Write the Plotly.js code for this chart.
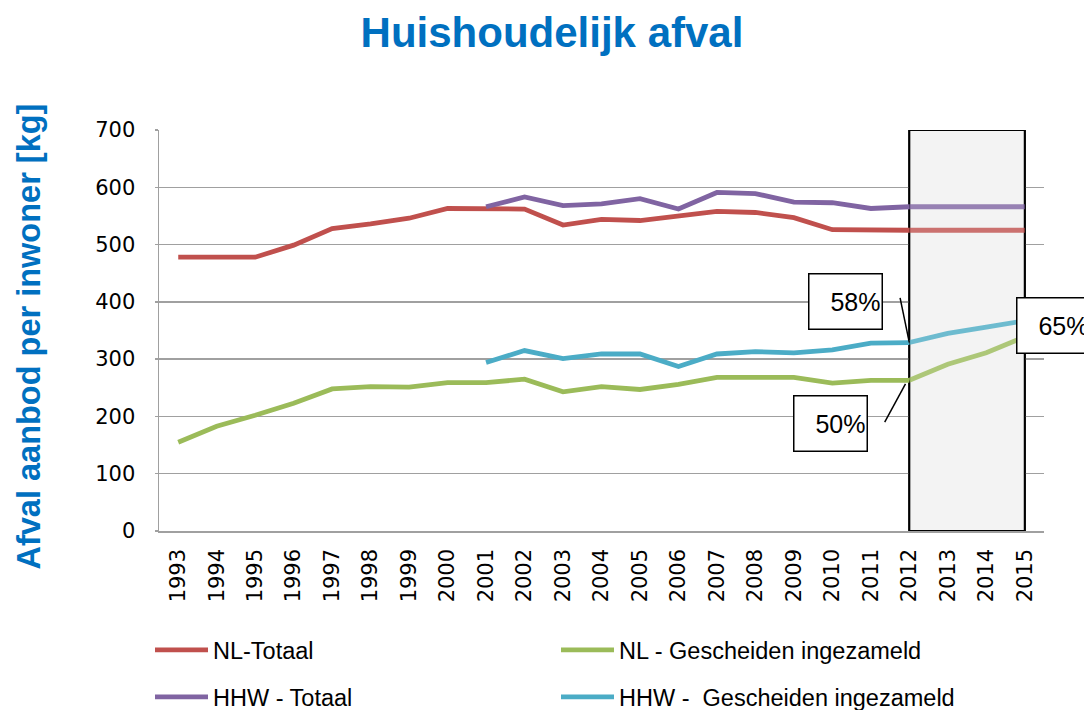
<!DOCTYPE html>
<html>
<head>
<meta charset="utf-8">
<script src="https://cdn.plot.ly/plotly-3.0.1.min.js"></script>
<style>
  html, body { margin: 0; padding: 0; background: #ffffff; }
  #chart { width: 1084px; height: 710px; }
</style>
</head>
<body>
<div id="chart"></div>
<script>
// ---- data ----
const years = ['1993','1994','1995','1996','1997','1998','1999','2000','2001','2002','2003','2004',
               '2005','2006','2007','2008','2009','2010','2011','2012','2013','2014','2015'];
const nlTotaal      = [478, 479, 478, 499, 528, 536, 546, 563, 563, 562, 534, 544, 542, 550, 558, 556, 547, 526, 525, 525, 525, 525, 525];
const nlGescheiden  = [155, 183, 202, 223, 248, 252, 251, 259, 259, 265, 243, 252, 247, 256, 268, 267, 268, 258, 263, 263, 291, 311, 339];
const hhwTotaal     = [null, null, null, null, null, null, null, null, 566, 583, 568, 571, 580, 562, 591, 589, 574, 573, 563, 566, 566, 566, 566];
const hhwGescheiden = [null, null, null, null, null, null, null, null, 294, 315, 301, 309, 309, 287, 309, 313, 311, 316, 328, 329, 345, 356, 367];
const seriesNames = ['NL-Totaal', 'NL - Gescheiden ingezameld', 'HHW - Totaal', 'HHW - \u00a0Gescheiden ingezameld'];
const percentLabels = ['58%', '50%', '65%'];
const yTicks = [0, 100, 200, 300, 400, 500, 600, 700];

const projStart = years.indexOf('2012');
const projEnd = years.length - 1;
const colors = ['#C0504D', '#9BBB59', '#8064A2', '#4BACC6'];
const series = [nlTotaal, nlGescheiden, hhwTotaal, hhwGescheiden];
const legendOf = ['legend', 'legend', 'legend2', 'legend2'];

const traces = [];
series.forEach((vals, i) => {
  traces.push({
    type: 'scatter', mode: 'lines', name: seriesNames[i],
    x: years.slice(0, projStart + 1), y: vals.slice(0, projStart + 1),
    line: { color: colors[i], width: 4.8 },
    legend: legendOf[i], hoverinfo: 'x+y+name'
  });
});
series.forEach((vals, i) => {
  traces.push({
    type: 'scatter', mode: 'lines', name: seriesNames[i],
    x: years.slice(projStart), y: vals.slice(projStart),
    line: { color: colors[i], width: 4.8 }, opacity: 0.8,
    showlegend: false, legend: legendOf[i], hoverinfo: 'x+y+name'
  });
});

const textFamily = 'Liberation Sans, Arial, sans-serif';
const labelFont = { family: textFamily, size: 25, color: '#000000' };
function pctBox(text, xref, x, y) {
  return {
    xref: xref, yref: 'y', x: x, y: y, text: text, showarrow: false,
    font: labelFont, align: 'right', width: 70, height: 52,
    bgcolor: '#ffffff', bordercolor: '#000000', borderwidth: 1.5, borderpad: 1,
    xanchor: 'center', yanchor: 'middle'
  };
}

const legendBase = {
  orientation: 'h', xref: 'container', yref: 'container',
  x: 150 / 1084, xanchor: 'left', yanchor: 'middle',
  entrywidth: 338, entrywidthmode: 'pixels', itemwidth: 53,
  font: { family: textFamily, size: 23.5, color: '#000000' },
  bgcolor: 'rgba(0,0,0,0)', traceorder: 'normal'
};

const layout = {
  width: 1084, height: 710,
  margin: { l: 159, r: 40, t: 130, b: 179 },
  paper_bgcolor: '#ffffff', plot_bgcolor: '#ffffff',
  title: {
    text: 'Huishoudelijk afval',
    font: { family: textFamily, size: 42, color: '#0070C0', weight: 'bold' },
    xref: 'container', x: 552 / 1084, xanchor: 'center',
    yref: 'container', y: 1 - 32 / 710, yanchor: 'middle'
  },
  xaxis: {
    type: 'category', range: [-0.5, years.length - 0.5],
    tickangle: -90, ticks: '', ticklabelstandoff: 8,
    tickfont: { family: 'DejaVu Sans, sans-serif', size: 21, color: '#000000' },
    showgrid: false, showline: true, linecolor: '#a0a0a0', linewidth: 1.5,
    zeroline: false, fixedrange: true
  },
  yaxis: {
    range: [0, 700], tickvals: yTicks, ticktext: yTicks.map(String),
    ticks: 'outside', ticklen: 3, tickcolor: '#a0a0a0', tickwidth: 1.5,
    ticklabelstandoff: 15,
    tickfont: { family: 'DejaVu Sans, sans-serif', size: 21, color: '#000000' },
    showgrid: true, gridcolor: '#a0a0a0', gridwidth: 1.5,
    showline: true, linecolor: '#a0a0a0', linewidth: 1.5,
    zeroline: false, fixedrange: true
  },
  shapes: [
    { type: 'rect', xref: 'x', yref: 'y', x0: projStart, x1: projEnd, y0: 0, y1: 700,
      fillcolor: '#f3f3f3', line: { color: '#000000', width: 2 }, layer: 'below' },
    { type: 'rect', xref: 'x', yref: 'y', x0: projStart, x1: projEnd, y0: 0, y1: 700,
      fillcolor: '#f3f3f3', line: { color: '#000000', width: 2 }, layer: 'between' },
    { type: 'line', xref: 'x', yref: 'y', x0: 18.76, y0: 407, x1: 19.0, y1: 329, line: { color: '#000000', width: 1.5 } },
    { type: 'line', xref: 'x', yref: 'y', x0: 18.36, y0: 190, x1: 18.9, y1: 257, line: { color: '#000000', width: 1.5 } }
  ],
  annotations: [
    pctBox(percentLabels[0], 'x', 17.34, 400),
    pctBox(percentLabels[1], 'x', 16.95, 187),
    pctBox(percentLabels[2], 'paper', (1053 - 159) / 885, 359),
    {
      xref: 'paper', yref: 'paper', x: (28 - 159) / 885, y: (531 - 336.5) / 401,
      text: 'Afval aanbod per inwoner [kg]', textangle: -90, showarrow: false,
      xanchor: 'center', yanchor: 'middle',
      font: { family: textFamily, size: 32.5, color: '#0070C0', weight: 'bold' }
    }
  ],
  legend: Object.assign({}, legendBase, { y: 1 - 650 / 710 }),
  legend2: Object.assign({}, legendBase, { y: 1 - 697 / 710 }),
  showlegend: true
};

Plotly.newPlot('chart', traces, layout, { displayModeBar: false, staticPlot: true });
</script>
</body>
</html>
